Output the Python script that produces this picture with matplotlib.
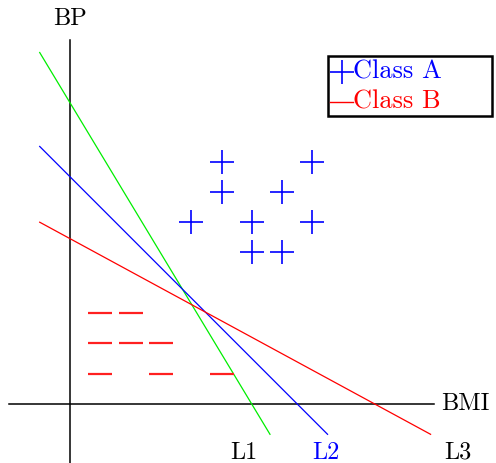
import matplotlib
matplotlib.use("Agg")
import matplotlib.pyplot as plt
from matplotlib.patches import Rectangle

# class A points (blue +)
a_x = [5, 8, 5, 7, 4, 6, 8, 6, 7]
a_y = [8, 8, 7, 7, 6, 6, 6, 5, 5]

# class B points (red -)
b_x = [1, 2, 1, 2, 3, 1, 3, 5]
b_y = [3, 3, 2, 2, 2, 1, 1, 1]

# separating lines, start and end points
l1_x = [-1, 6.6]
l1_y = [11.6, -1]
l2_x = [-1, 8.5]
l2_y = [8.5, -1]
l3_x = [-1, 11.9]
l3_y = [6, -1]

legend_labels = ['Class A', 'Class B']

plt.rcParams['font.family'] = ['cmr10', 'DejaVu Serif']
fs = 17.5
W, H = 496, 463

fig = plt.figure(figsize=(W / 100, H / 100), dpi=100)
ax = fig.add_axes([0, 0, 1, 1])
ax.set_xlim(-70 / 30.3, 426 / 30.3)
ax.set_ylim(-59 / 30.3, 404 / 30.3)
ax.axis('off')

# axes through origin
ax.plot([-2, 12], [0, 0], color='black', lw=1.1)
ax.plot([0, 0], [-1.95, 12], color='black', lw=1.1)
ax.text(12.25, 0, 'BMI', fontsize=fs, va='center', ha='left')
ax.text(0, 12.35, 'BP', fontsize=fs, va='bottom', ha='center')

ax.plot(l1_x, l1_y, color='#00ee00', lw=0.9)
ax.plot(l2_x, l2_y, color='blue', lw=0.9)
ax.plot(l3_x, l3_y, color='red', lw=0.9)
ax.text(5.75, -1.6, 'L1', fontsize=fs, va='center', ha='center')
ax.text(8.45, -1.6, 'L2', fontsize=fs, va='center', ha='center', color='blue')
ax.text(12.8, -1.6, 'L3', fontsize=fs, va='center', ha='center')

ax.plot(a_x, a_y, linestyle='none', marker='+', color='blue', ms=17, mew=1.2)
ax.plot(b_x, b_y, linestyle='none', marker='_', color='#ff2020', ms=17, mew=1.6)

# legend box drawn by hand (pixel positions converted to axes fraction)
def fx(px):
    return px / W

def fy(py):
    return 1 - py / H

ax.add_patch(Rectangle((fx(328), fy(116)), fx(492) - fx(328), fy(56) - fy(116),
                       transform=ax.transAxes, fill=True, facecolor='white',
                       edgecolor='black', lw=1.8, zorder=5))
ax.plot([fx(342)], [fy(72)], transform=ax.transAxes, marker='+', color='blue',
        ms=17, mew=1.2, zorder=6)
ax.plot([fx(330), fx(353)], [fy(102), fy(102)], transform=ax.transAxes,
        color='red', lw=1.0, zorder=6)
ax.text(fx(353), fy(72), legend_labels[0], transform=ax.transAxes, fontsize=19,
        color='blue', va='center', ha='left', zorder=6)
ax.text(fx(353), fy(102), legend_labels[1], transform=ax.transAxes, fontsize=19,
        color='red', va='center', ha='left', zorder=6)

fig.savefig('out.png', dpi=100)
